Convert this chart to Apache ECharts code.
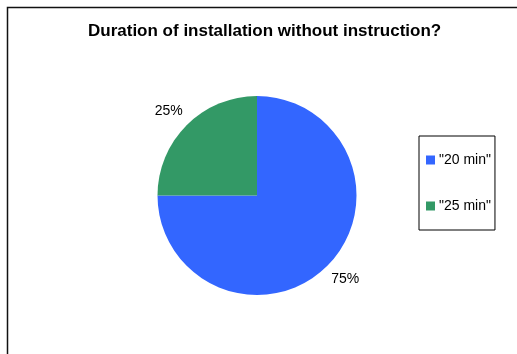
<!DOCTYPE html>
<html>
<head>
<meta charset="utf-8">
<script src="https://cdn.jsdelivr.net/npm/echarts@6/dist/echarts.min.js"></script>
<style>
  html, body { margin: 0; padding: 0; background: #fff; }
  #chart { width: 517px; height: 354px; }
</style>
</head>
<body>
<div id="chart"></div>
<script>
// Answers to the survey question and their shares (percent)
const categories = ['"20 min"', '"25 min"'];
const shares = [75, 25];
const sliceColors = ['#3366FF', '#339966'];
// small nudges for the percentage labels (px)
const labelNudges = [[2, -3], [-2, 2]];

const FONT = '"Liberation Sans", Arial, Helvetica, sans-serif';

const chart = echarts.init(document.getElementById('chart'), null, { renderer: 'canvas' });

const pieData = categories.map((name, i) => ({
  name: name,
  value: shares[i],
  itemStyle: { color: sliceColors[i] }
}));

chart.setOption({
  animation: false,
  backgroundColor: '#ffffff',
  title: {
    text: 'Duration of installation without instruction?',
    left: 88,
    top: 23,
    padding: 0,
    textStyle: { fontFamily: FONT, fontSize: 17, fontWeight: 'bold', color: '#000' }
  },
  legend: {
    orient: 'vertical',
    left: 419,
    top: 136,
    padding: [17, 4, 17, 7],
    itemGap: 32,
    itemWidth: 9,
    itemHeight: 9,
    icon: 'rect',
    borderColor: '#000',
    borderWidth: 1,
    backgroundColor: '#fff',
    data: categories,
    textStyle: { fontFamily: FONT, fontSize: 14, color: '#000', padding: [0, 0, 0, -1] }
  },
  graphic: [{
    type: 'rect',
    z: -1,
    silent: true,
    shape: { x: 7.5, y: 7.5, width: 700, height: 500 },
    style: { fill: 'none', stroke: '#111', lineWidth: 1.5 }
  }],
  series: [
    {
      type: 'pie',
      center: [257, 195.5],
      radius: [0, 99.5],
      startAngle: 90,
      clockwise: true,
      silent: true,
      data: pieData,
      itemStyle: { borderWidth: 0 },
      label: { show: false },
      labelLine: { show: false }
    },
    {
      // transparent ring used only to place the percentage labels outside the pie
      type: 'pie',
      center: [257, 195.5],
      radius: [0, 238],
      startAngle: 90,
      clockwise: true,
      silent: true,
      legendHoverLink: false,
      data: categories.map((name, i) => ({
        name: name,
        value: shares[i],
        label: { offset: labelNudges[i] }
      })),
      itemStyle: { color: 'rgba(0,0,0,0)', borderWidth: 0 },
      label: {
        show: true,
        position: 'inside',
        formatter: '{d}%',
        fontFamily: FONT,
        fontSize: 14,
        color: '#000'
      },
      labelLine: { show: false }
    }
  ]
});
</script>
</body>
</html>
